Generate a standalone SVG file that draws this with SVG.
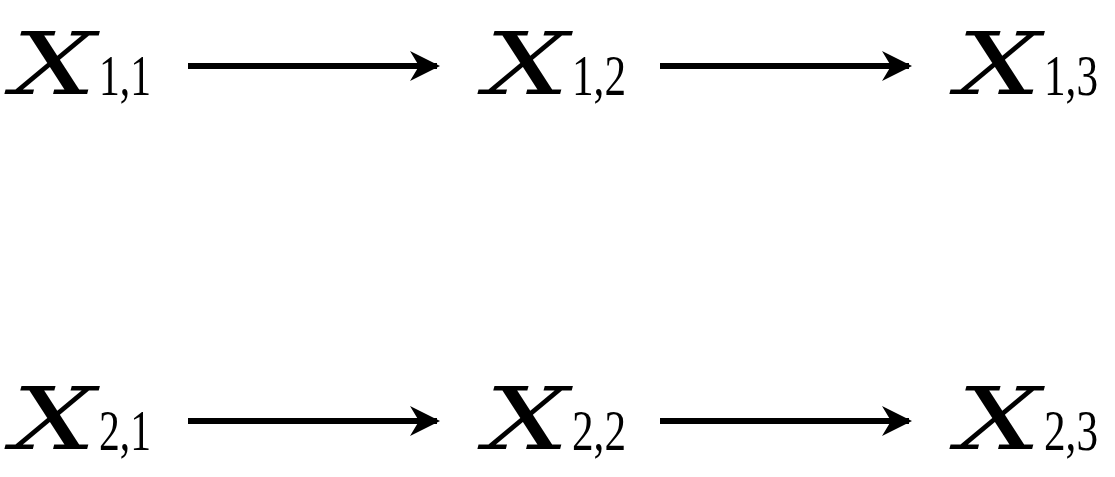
<svg xmlns="http://www.w3.org/2000/svg" width="1115" height="477" viewBox="0 0 1115 477">
<style>
.x{font-family:"DejaVu Serif",serif;font-style:italic;font-size:86px;fill:#000}
.s{font-family:"Liberation Serif",serif;font-size:56px;fill:#000}
.c line{stroke:#000;stroke-width:6}
</style>
<defs><marker id="a" viewBox="0 0 10 10" refX="9" refY="5" markerWidth="5" markerHeight="5" markerUnits="strokeWidth" orient="auto"><path d="M0,0 L10,5 L0,10 L3,5 Z" fill="#000"/></marker></defs>
<rect width="1115" height="477" fill="#fff"/>
<g id="n11"><text x="12" y="94" class="x" textLength="84" lengthAdjust="spacingAndGlyphs">X</text><text x="99" y="95" class="s" textLength="52" lengthAdjust="spacingAndGlyphs">1,1</text></g>
<g id="n12"><text x="485" y="94" class="x" textLength="84" lengthAdjust="spacingAndGlyphs">X</text><text x="572" y="95" class="s" textLength="54" lengthAdjust="spacingAndGlyphs">1,2</text></g>
<g id="n13"><text x="957" y="94" class="x" textLength="84" lengthAdjust="spacingAndGlyphs">X</text><text x="1044" y="95" class="s" textLength="54" lengthAdjust="spacingAndGlyphs">1,3</text></g>
<g id="n21"><text x="12" y="449" class="x" textLength="84" lengthAdjust="spacingAndGlyphs">X</text><text x="99" y="450" class="s" textLength="52" lengthAdjust="spacingAndGlyphs">2,1</text></g>
<g id="n22"><text x="485" y="449" class="x" textLength="84" lengthAdjust="spacingAndGlyphs">X</text><text x="572" y="450" class="s" textLength="54" lengthAdjust="spacingAndGlyphs">2,2</text></g>
<g id="n23"><text x="957" y="449" class="x" textLength="84" lengthAdjust="spacingAndGlyphs">X</text><text x="1044" y="450" class="s" textLength="54" lengthAdjust="spacingAndGlyphs">2,3</text></g>
<g class="c">
<line x1="188" y1="66" x2="437" y2="66" marker-end="url(#a)"/>
<line x1="660" y1="66" x2="909" y2="66" marker-end="url(#a)"/>
<line x1="188" y1="421" x2="437" y2="421" marker-end="url(#a)"/>
<line x1="660" y1="421" x2="909" y2="421" marker-end="url(#a)"/>
</g>
</svg>
